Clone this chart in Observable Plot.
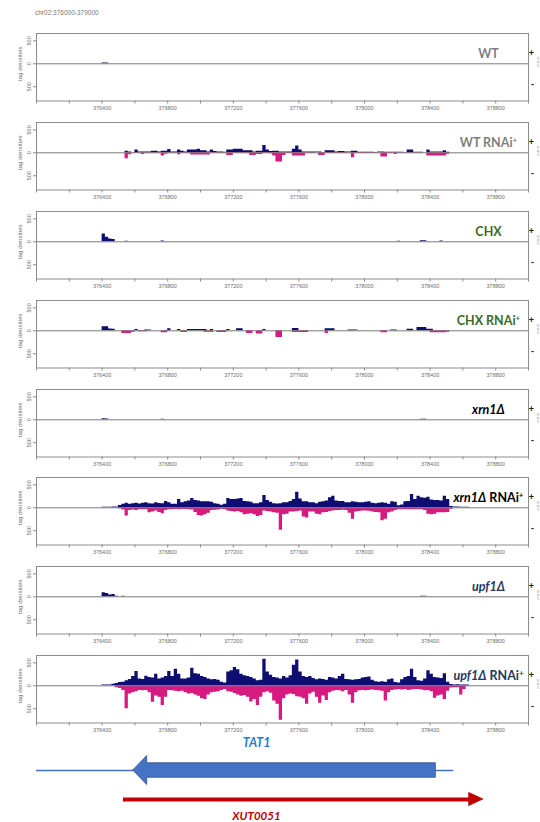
<!DOCTYPE html>
<html><head><meta charset="utf-8">
<script src="https://cdn.jsdelivr.net/npm/d3@7"></script>
<script src="https://cdn.jsdelivr.net/npm/@observablehq/plot@0.6"></script>
<style>
body{margin:0;background:#fff;}
#root{position:relative;width:540px;height:822px;overflow:hidden;font-family:"Liberation Sans",Arial,sans-serif;}
#root svg{position:absolute;left:0;}
#title{position:absolute;left:35px;top:9px;font-size:6.5px;color:#777;line-height:8px;}
</style></head><body>
<div id="root"><div id="title">chr02:376000-379000</div></div>
<script>
// ---------- scale / axis constants ----------
const region = [376000, 379000];
const binStart = 376400, binWidth = 20, nBins = 112;
const xTicks = d3.range(376000, 379001, 200);
const xTickLabels = [376400, 376800, 377200, 377600, 378000, 378400, 378800];
const yTicks = [-500, 0, 500];
const yDomain = [-810, 660];

// ---------- panels ----------
const panelMain   = ["WT", "WT", "CHX", "CHX", "xrn1Δ", "xrn1Δ", "upf1Δ", "upf1Δ"];
const panelRNAi   = [false, true, false, true, false, true, false, true];
const panelItalic = [false, false, false, false, true, true, true, true];
const panelColor  = ["#7f7f7f", "#7f7f7f", "#3d6b22", "#3d6b22", "#000000", "#000000", "#1f3864", "#1f3864"];

// ---------- tag densities (20 bp bins from 376400), + strand up, - strand down ----------
const wtPlus = [15, 15];
const wtMinus = [];
const wtRnaiPlus = [
  0,0,0,0,0,0,0,35,20,0, 60,20,20,20,20,35,35,15,35,35, 70,20,20,60,35,20,60,60,60,75,
  45,45,20,60,30,20,20,10,60,60, 75,75,75,45,45,45,20,35,35,160, 60,30,35,35,20,20,20,20,80,150,
  60,20,20,20,20,15,15,0,45,45, 45,15,30,30,15,15,35,35,10,10, 10,10,10,0,20,20,10,10,10,10,
  10,10,0,60,60,10,10,10,0,60, 15,15,15,15,45,10,0,0,0,0, 0,0];
const wtRnaiMinus = [
  0,0,0,0,0,0,0,130,40,10, 10,10,35,10,10,10,10,10,70,30, 10,10,10,45,10,10,10,50,50,50,
  50,50,50,10,10,10,10,10,60,60, 10,10,10,10,15,60,60,35,35,10, 10,20,70,200,200,60,15,15,70,70,
  70,70,15,15,15,0,60,60,15,15, 15,15,15,15,15,0,110,15,15,15, 15,15,15,15,0,90,90,15,15,35,
  10,10,10,10,10,10,10,10,0,70, 70,70,70,70,70,30,0,0,0,0, 0,0];
const chxPlus = [
  170,100,60,50,0,0,0,10,0,0, 0,0,0,0,0,0,0,0,15,0, 0,0,0,0,0,0,0,0,0,0,
  0,0,0,0,0,0,0,0,0,0, 0,0,0,0,0,0,0,0,0,0, 0,0,0,0,0,0,0,0,0,0,
  0,0,0,0,0,0,0,0,0,0, 0,0,0,0,0,0,0,0,0,0, 0,0,0,0,0,0,0,0,0,0,
  10,0,0,0,0,0,0,25,25,0, 0,0,0,15,0,0,0,0,0,0, 0,0];
const chxMinus = [];
const chxRnaiPlus = [
  90,90,40,35,0,0,0,0,0,0, 30,0,0,20,20,0,0,0,0,0, 45,0,0,30,0,0,30,30,30,30,
  30,30,0,30,0,0,0,0,30,0, 0,45,45,0,0,0,0,0,0,30, 0,0,0,0,0,0,0,0,50,50,
  0,0,0,0,0,0,0,0,45,45, 45,0,0,0,0,20,20,20,0,0, 0,0,0,0,0,0,0,0,20,20,
  0,0,0,35,35,0,70,70,70,35, 35,0,0,0,0,0,0,0,0,0, 0,0];
const chxRnaiMinus = [
  0,0,0,0,0,0,60,60,60,30, 0,20,20,20,0,0,0,0,45,45, 0,0,0,0,35,35,0,0,0,0,
  0,30,30,30,0,35,35,35,0,0, 0,0,0,0,60,60,0,70,70,0, 0,0,0,145,145,0,0,0,35,35,
  35,35,35,0,0,0,0,0,60,0, 0,0,0,0,0,0,0,0,0,0, 0,0,0,0,0,45,45,0,0,0,
  0,0,0,0,0,0,0,0,0,0, 45,45,45,45,45,30,0,0,0,0, 0,0];
const xrn1Plus = [
  25,15,0,0,0,0,0,0,0,0, 0,0,0,0,0,0,0,0,10,0, 0,0,0,0,0,0,0,0,0,0,
  0,0,0,0,0,0,0,0,0,0, 0,0,0,0,0,0,0,0,0,0, 0,0,0,0,0,0,0,0,0,0,
  0,0,0,0,0,0,0,0,0,0, 0,0,0,0,0,0,0,0,0,0, 0,0,0,0,0,0,0,0,0,0,
  0,0,0,0,0,0,0,10,10,0, 0,0];
const xrn1Minus = [];
const xrn1RnaiPlus = [
  10,10,10,15,20,50,75,100,75,90, 100,85,100,110,90,85,110,95,90,140, 110,75,80,180,110,130,150,200,160,150,
  130,130,130,120,90,80,55,75,200,180, 180,190,200,140,130,120,90,90,110,270, 160,120,90,85,90,110,110,140,180,340,
  190,130,130,110,110,90,120,130,150,220, 250,150,140,140,110,110,130,120,110,110, 120,130,100,90,100,110,100,80,130,120,
  45,60,130,140,290,180,250,220,210,230, 170,160,160,150,250,180,30,15,15,10, 10,10];
const xrn1RnaiMinus = [
  0,0,0,0,0,20,50,180,60,50, 60,45,40,40,110,90,70,100,130,60, 45,40,35,40,35,35,40,50,100,170,
  180,150,120,60,55,50,30,40,70,80, 90,80,110,150,140,130,150,190,170,70, 80,90,110,120,490,150,140,90,90,80,
  70,200,220,90,90,140,150,110,100,80, 70,60,60,55,60,120,250,90,80,70, 70,75,90,100,110,280,250,110,90,60,
  40,45,45,45,45,45,45,45,60,140, 150,140,110,110,110,100,30,0,0,0, 0,0];
const upf1Plus = [
  90,70,40,50,10,0,10,0,0,0, 0,0,0,0,0,0,0,0,0,0, 0,0,0,0,0,0,0,0,0,0,
  0,0,0,0,0,0,0,0,0,0, 0,0,0,0,0,0,0,0,0,0, 0,0,0,0,0,0,0,0,0,0,
  0,0,0,0,0,0,0,0,0,0, 0,0,0,0,0,0,0,0,0,0, 0,0,0,0,0,0,0,0,0,0,
  0,0,0,0,0,0,0,10,10,0, 0,0];
const upf1Minus = [];
const upf1RnaiPlus = [
  20,20,20,35,50,70,80,110,140,200, 310,150,140,210,180,170,250,150,170,200, 310,200,360,250,150,150,170,380,260,250,
  200,180,150,130,140,120,80,60,300,330, 400,350,250,220,200,180,150,110,120,580, 300,230,180,170,150,200,170,220,450,560,
  300,200,180,200,160,130,150,140,120,180, 170,150,200,250,140,130,120,130,140,170, 180,190,120,90,80,90,80,130,150,70,
  60,130,180,200,360,180,110,100,150,330, 250,180,170,160,260,80,30,20,25,20, 20,15];
const upf1RnaiMinus = [
  0,0,0,0,40,60,100,500,180,150, 130,100,110,100,150,360,220,250,430,250, 100,110,120,130,120,150,180,170,200,230,
  280,300,200,150,140,130,100,80,130,140, 170,200,230,210,250,350,300,430,250,150, 130,160,330,400,750,280,200,180,190,240,
  250,280,400,180,140,250,380,220,320,150, 120,100,110,130,100,200,380,150,110,100, 110,100,90,100,110,120,330,150,100,90,
  80,90,80,100,90,80,80,90,110,100, 130,270,220,200,300,120,50,40,40,200, 80,10];

const plusSeries  = [wtPlus, wtRnaiPlus, chxPlus, chxRnaiPlus, xrn1Plus, xrn1RnaiPlus, upf1Plus, upf1RnaiPlus];
const minusSeries = [wtMinus, wtRnaiMinus, chxMinus, chxRnaiMinus, xrn1Minus, xrn1RnaiMinus, upf1Minus, upf1RnaiMinus];

// ---------- gene annotation ----------
const geneNames  = ["TAT1", "XUT0051"];
const geneStart  = [376590, 376530];
const geneEnd    = [378435, 378725];
const geneStrand = ["-", "+"];
const geneFlank  = [[376000, 378545], null];   // thin transcript line under TAT1
const geneColors = ["#4472c4", "#c00000"];
const geneLabelColors = ["#2a7bd0", "#c00000"];

// ---------- styles ----------
const plusColor = "#0d0d72", minusColor = "#d61a7f";
const axisGray = "#8c8c8c", textGray = "#6e6e6e";
const root = document.getElementById("root");
const NS = "http://www.w3.org/2000/svg";

function toPoints(arr, sign) {
  const pts = [];
  for (let j = 0; j < nBins; j++) pts.push({x: binStart + j * binWidth, y: sign * (arr[j] || 0)});
  pts.push({x: binStart + nBins * binWidth, y: 0});
  return pts;
}

function styleLabel(svg, full, main, italic, rnai) {
  for (const t of svg.querySelectorAll("text")) {
    if (t.textContent !== full) continue;
    t.textContent = "";
    const a = document.createElementNS(NS, "tspan");
    a.textContent = main;
    if (italic) a.setAttribute("font-style", "italic");
    t.appendChild(a);
    if (rnai) {
      const b = document.createElementNS(NS, "tspan");
      b.textContent = " RNAi";
      t.appendChild(b);
      const c = document.createElementNS(NS, "tspan");
      c.textContent = "+";
      c.setAttribute("font-size", "8");
      c.setAttribute("dy", "-4.5");
      t.appendChild(c);
    }
  }
}

const panelH = 89, frameTop = 4, frameH = 67.5;
for (let i = 0; i < 8; i++) {
  const full = panelMain[i] + (panelRNAi[i] ? " RNAi+" : "");
  const svg = Plot.plot({
    width: 540, height: panelH,
    marginTop: frameTop, marginBottom: panelH - frameTop - frameH, marginLeft: 36, marginRight: 12,
    style: {background: "transparent", fontFamily: "'Liberation Sans', Arial, sans-serif", overflow: "visible"},
    x: {domain: region, axis: null},
    y: {domain: yDomain, axis: null},
    marks: [
      Plot.areaY(toPoints(plusSeries[i], 1), {x: "x", y: "y", curve: "step-after", fill: plusColor}),
      Plot.areaY(toPoints(minusSeries[i], -1), {x: "x", y: "y", curve: "step-after", fill: minusColor}),
      Plot.ruleY([0], {stroke: "#7a7a7a", strokeWidth: 1}),
      Plot.frame({stroke: axisGray, strokeWidth: 1}),
      Plot.axisX({ticks: xTicks, tickFormat: d => xTickLabels.includes(d) ? String(d) : "",
        tickSize: 3, tickPadding: 2, fontSize: 5.5, stroke: axisGray, fill: textGray, label: null}),
      Plot.axisY({ticks: yTicks, tickFormat: () => "", tickSize: 3, stroke: axisGray, label: null}),
      Plot.text(yTicks, {x: () => region[0], y: d => d, text: d => String(Math.abs(d)), rotate: -90,
        dx: -7.5, fontSize: 5.5, fill: textGray}),
      Plot.text(["tag densities"], {x: () => region[0], y: () => 0, rotate: -90, dx: -16,
        fontSize: 6.2, fill: textGray}),
      Plot.text([full], {frameAnchor: "top-right", dx: -40, dy: 16, textAnchor: "middle",
        fontFamily: "Lato, 'Open Sans', sans-serif", fontWeight: "bold", fontSize: 12.5, fill: panelColor[i]}),
      Plot.text(["+"], {frameAnchor: "top-right", dx: 5.5, dy: 16.5, fontSize: 9, fontWeight: "bold", fill: "#222"}),
      Plot.text(["-"], {frameAnchor: "top-right", dx: 5.5, dy: 47, fontSize: 9, fontWeight: "bold", fill: "#222"}),
      Plot.text(["strand"], {frameAnchor: "top-right", dx: 10.5, dy: 33, rotate: 90, fontSize: 3.5, fill: "#999"})
    ]
  });
  styleLabel(svg, full, panelMain[i], panelItalic[i], panelRNAi[i]);
  svg.style.top = (33.3 + 88.8 * i - frameTop) + "px";
  root.appendChild(svg);
}

// ---------- gene track ----------
const lanes = [2, 1];
const geneShapes = [], shafts = [], flanks = [];
geneNames.forEach((name, k) => {
  const lane = lanes[k], s = geneStart[k], e = geneEnd[k], head = 85;
  if (geneFlank[k]) flanks.push({x1: geneFlank[k][0], x2: geneFlank[k][1], y: lane, c: geneColors[k]});
  if (k === 0) {
    // block arrow (reverse strand)
    const bh = 0.25, hh = 0.5;
    const pts = geneStrand[k] === "-"
      ? [{x: s, y1: lane, y2: lane}, {x: s + head, y1: lane - hh, y2: lane + hh},
         {x: s + head, y1: lane - bh, y2: lane + bh}, {x: e, y1: lane - bh, y2: lane + bh}]
      : [{x: s, y1: lane - bh, y2: lane + bh}, {x: e - head, y1: lane - bh, y2: lane + bh},
         {x: e - head, y1: lane - hh, y2: lane + hh}, {x: e, y1: lane, y2: lane}];
    geneShapes.push({pts, fill: geneColors[k], stroke: "#2f528f"});
  } else {
    const hh = 0.22;
    shafts.push({x1: s, x2: e - head, y: lane, c: geneColors[k]});
    geneShapes.push({pts: [{x: e - head, y1: lane - hh, y2: lane + hh}, {x: e, y1: lane, y2: lane}],
      fill: geneColors[k], stroke: geneColors[k]});
  }
});
const geneLabels = geneNames.map((name, k) => ({
  name, x: (geneStart[k] + geneEnd[k]) / 2, y: lanes[k], c: geneLabelColors[k]}));

const gsvg = Plot.plot({
  width: 540, height: 87, marginTop: 0, marginBottom: 0, marginLeft: 36, marginRight: 12,
  style: {background: "transparent", overflow: "visible"},
  x: {domain: region, axis: null},
  y: {domain: [0, 3], range: [93, 6], axis: null},
  marks: [
    Plot.ruleY(flanks, {x1: "x1", x2: "x2", y: "y", stroke: "c", strokeWidth: 1.6}),
    Plot.ruleY(shafts, {x1: "x1", x2: "x2", y: "y", stroke: "c", strokeWidth: 4}),
    ...geneShapes.map(g => Plot.areaY(g.pts, {x: "x", y1: "y1", y2: "y2", fill: g.fill, stroke: g.stroke, strokeWidth: 0.8})),
    Plot.text(geneLabels.slice(0, 1), {x: "x", y: "y", text: "name", dx: -28, dy: -28, fill: "c",
      fontFamily: "Lato, 'Open Sans', sans-serif", fontWeight: "bold", fontStyle: "italic", fontSize: 12.5}),
    Plot.text(geneLabels.slice(1), {x: "x", y: "y", text: "name", dx: -47, dy: 17, fill: "c",
      fontFamily: "Lato, 'Open Sans', sans-serif", fontWeight: "bold", fontStyle: "italic", fontSize: 11.5})
  ]
});
gsvg.style.top = "735px";
root.appendChild(gsvg);
</script>
</body></html>
